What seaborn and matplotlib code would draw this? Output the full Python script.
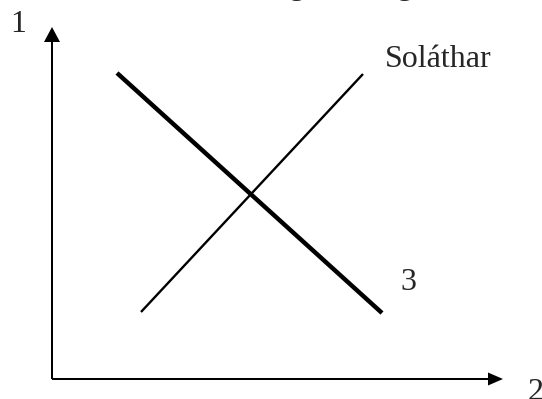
import matplotlib
matplotlib.use("Agg")
import matplotlib.pyplot as plt
import seaborn as sns
import pandas as pd

# Data (quantity / price units measured from the axis origin)
demand_q = [65, 330]
demand_p = [306, 66]
supply_q = [89, 311]
supply_p = [67, 305]

axis_labels = ["1", "2"]
supply_label = "Soláthar"
demand_label = "3"

sns.set_theme(style="white")
plt.rcParams['font.family'] = ['Liberation Serif', 'DejaVu Serif']

fig = plt.figure(figsize=(5.42, 3.99), dpi=100)
ax = fig.add_axes([0, 0, 1, 1])
ax.set_xlim(-52, 490)
ax.set_ylim(-20, 379)
ax.axis("off")

df_d = pd.DataFrame({"q": demand_q, "p": demand_p})
df_s = pd.DataFrame({"q": supply_q, "p": supply_p})
sns.lineplot(data=df_d, x="q", y="p", ax=ax, color="black", linewidth=3.2,
             solid_capstyle="butt", sort=False)
sns.lineplot(data=df_s, x="q", y="p", ax=ax, color="black", linewidth=1.7,
             solid_capstyle="butt", sort=False)

# Axes arrows
ax.arrow(0, 0, 0, 352, width=2, head_width=16, head_length=15,
         length_includes_head=True, color="black", linewidth=0)
ax.arrow(0, 0, 451, 0, width=2, head_width=13, head_length=15,
         length_includes_head=True, color="black", linewidth=0)

fs = 23
ax.text(-42, 347, axis_labels[0], fontsize=fs, ha="left", va="baseline")
ax.text(476, -21, axis_labels[1], fontsize=fs, ha="left", va="baseline")
ax.text(333, 312, supply_label, fontsize=fs, ha="left", va="baseline")
ax.text(348, 89, demand_label, fontsize=fs, ha="left", va="baseline")

# clipped title fragments at the very top
ax.text(245, 385, "g", fontsize=fs, ha="center", va="baseline")
ax.text(353, 385, "g", fontsize=fs, ha="center", va="baseline")

fig.savefig("out.png", dpi=100)
